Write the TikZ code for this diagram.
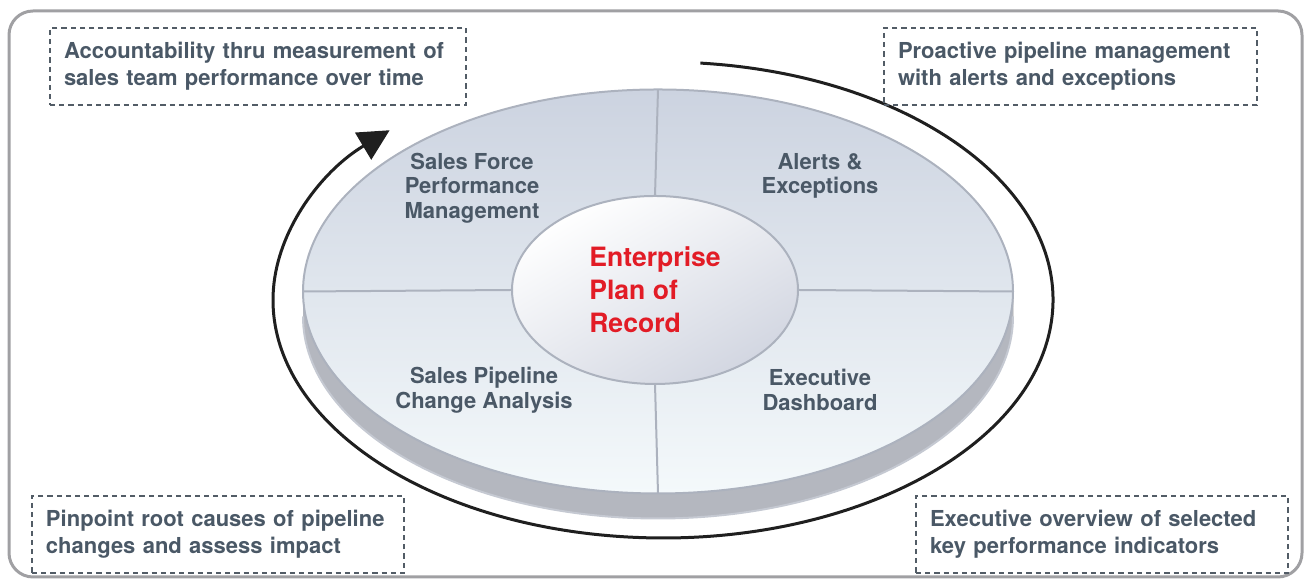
\documentclass[tikz,border=0pt]{standalone}
\usepackage{fontspec}
\setsansfont{TeX Gyre Heros}
\usetikzlibrary{shapes.geometric, arrows.meta, positioning, backgrounds}
\definecolor{porink}{RGB}{74, 88, 102}
\definecolor{pordash}{RGB}{82, 92, 102}
\definecolor{porred}{RGB}{226, 28, 38}
\definecolor{porframe}{RGB}{160, 160, 163}
\definecolor{diskhi}{RGB}{204, 211, 224}
\definecolor{disklo}{RGB}{244, 249, 251}
\definecolor{diskrim}{RGB}{172, 178, 190}
\definecolor{diskside}{RGB}{140, 145, 156}
\definecolor{hubshade}{RGB}{210, 214, 225}
\tikzset{
  note/.style={rectangle, draw=pordash, line width=1pt, dash pattern=on 2.6pt off 2pt,
               text width=#1, inner xsep=7pt, minimum height=38.5pt, align=left,
               text=porink, font=\sffamily\bfseries\fontsize{11}{13.5}\selectfont},
  note/.default=194pt,
  segtext/.style={align=center, text=porink,
                  font=\sffamily\bfseries\fontsize{11}{12.3}\selectfont},
  disk/.style={ellipse, draw=diskrim, line width=1pt, top color=diskhi, bottom color=disklo,
               minimum width=355pt, minimum height=202pt, inner sep=0pt, outer sep=0pt},
  hub/.style={ellipse, draw=diskrim, line width=1pt, top color=white, bottom color=hubshade,
              shading angle=30, minimum width=143pt, minimum height=94pt, inner sep=0pt,
              outer sep=0pt, align=left, text=porred,
              font=\sffamily\bfseries\fontsize{13.3}{16.5}\selectfont},
  divider/.style={draw=diskrim, line width=1pt},
  loopline/.style={-{Triangle[length=15.5pt, width=15.5pt]}, line width=1.5pt, color=black!88},
  frame/.style={draw=porframe, line width=1.5pt, rounded corners=12pt},
}
\begin{document}
\begin{tikzpicture}[x=0.5pt, y=0.5pt]
  \useasboundingbox (0,0) rectangle (1307,581);
  \draw[frame] (9,4) rectangle (1302,570);

  % plate and hub
  \node[disk] (disk) at (658,289.5) {};
  \begin{scope}[on background layer]
    \fill[left color=diskside!65!white, middle color=diskside, right color=diskside!65!white]
      (disk.west) -- ++(0,-25) arc[start angle=180, end angle=360, x radius=355, y radius=202]
      -- (disk.east) arc[start angle=0, end angle=-180, x radius=355, y radius=202] -- cycle;
    \draw[diskrim!70!white, line width=1pt] (disk.west) ++(0,-25)
      arc[start angle=180, end angle=360, x radius=355, y radius=202];
  \end{scope}
  \node[hub] (hub) at (655,291) {Enterprise\\Plan of\\Record};
  \draw[divider] (disk.north) -- (hub.north);
  \draw[divider] (hub.south) -- (disk.south);
  \draw[divider] (disk.west) -- (hub.west);
  \draw[divider] (hub.east) -- (disk.east);

  \node[segtext] (sfm) at (472,393) {Sales Force\\Performance\\Management};
  \node[segtext] (alerts) at (820,405) {Alerts \&\\Exceptions};
  \node[segtext] (pipeline) at (484,191) {Sales Pipeline\\Change Analysis};
  \node[segtext] (dashboard) at (820,191) {Executive\\Dashboard};

  % clockwise loop round the plate
  \coordinate (loopstart) at (700.4,517.9);
  \draw[loopline] (loopstart) arc[start angle=84.5, end angle=-225.5, x radius=390, y radius=238];

  \node[note] (ntl) at (258,514.5) {Accountability thru measurement of\\sales team performance over time};
  \node[note=172.5pt] (ntr) at (1070.5,514.5) {Proactive pipeline management\\with alerts and exceptions};
  \node[note=172pt] (nbl) at (218,46.5) {Pinpoint root causes of pipeline\\changes and assess impact};
  \node[note=172pt] (nbr) at (1102,46.5) {Executive overview of selected\\key performance indicators};
\end{tikzpicture}
\end{document}
